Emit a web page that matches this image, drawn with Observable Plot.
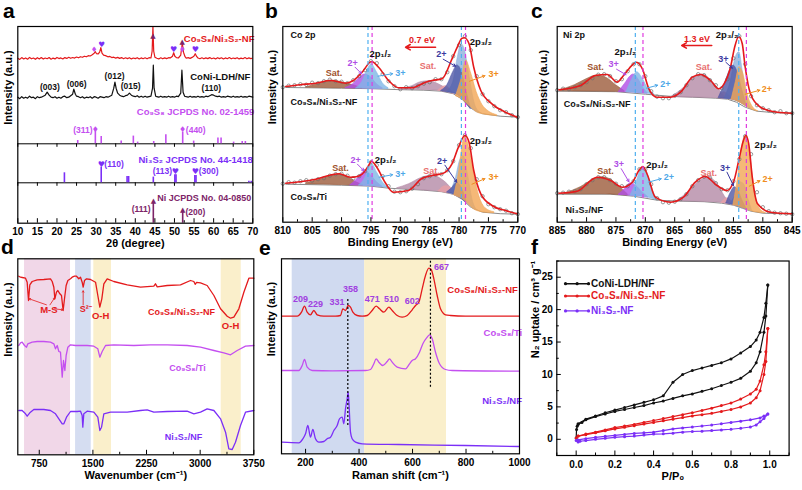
<!DOCTYPE html>
<html><head><meta charset="utf-8">
<script src="https://cdn.jsdelivr.net/npm/d3@7"></script>
<script src="https://cdn.jsdelivr.net/npm/@observablehq/plot@0.6"></script>
<style>
body{margin:0;background:#fff;}
#fig{position:relative;width:802px;height:490px;overflow:hidden;background:#fff;}
.panel{position:absolute;}
.letter{position:absolute;font-weight:bold;font-size:21px;line-height:1;font-family:"Liberation Sans",Arial,sans-serif;}
</style></head><body><div id="fig"></div>
<script>
// ---------------- DATA ----------------
// (a) XRD, 2theta vs intensity (a.u.)
const xrdHet = [[10,165],[10.5,163.8],[11,165.6],[11.5,164.2],[12,165.3],[12.5,164],[13,165.8],[13.5,164.4],[14,165.2],[14.5,163.9],[15,165.5],[15.5,164.3],[16,165.6],[16.5,164.1],[17,165.2],[17.5,164.5],[18,165.7],[18.5,164],[19,165.1],[19.5,164.3],[20,165.8],[20.5,164.6],[21,165.3],[21.5,164.2],[22,165.6],[22.5,164.8],[23,165.9],[23.5,164.9],[24,165.7],[24.5,165.1],[25,166.2],[25.5,165.4],[26,166.5],[26.5,165.9],[27,167],[27.5,166.4],[28,167.5],[28.5,167.2],[29,168.5],[29.5,170],[29.8,171.5],[30.1,169.5],[30.5,169.2],[30.9,171],[31.2,175.5],[31.5,170],[31.9,168],[32.4,167.6],[33,166.4],[33.5,166.8],[34,165.6],[34.5,166],[35,165.1],[35.5,165.8],[36,164.8],[36.5,165.6],[37,164.5],[37.5,165.4],[38,164.6],[38.5,165.5],[39,164.3],[39.5,165.2],[40,164.6],[40.5,165.5],[41,164.2],[41.5,165.3],[42,164.5],[42.5,165.4],[43,164.4],[43.5,165.5],[44,165.2],[44.3,172],[44.5,197],[44.7,172],[45,166],[45.5,165],[46,164.3],[46.5,165.4],[47,164.4],[47.5,165.3],[48,164.6],[48.5,165.5],[49,165.4],[49.5,167],[49.8,170.5],[50.1,167],[50.5,165.6],[51,165.2],[51.6,168],[52,180],[52.3,171],[52.7,166.5],[53,165],[53.5,165.6],[54,164.8],[54.5,165.8],[55,167.2],[55.3,169.5],[55.7,166.5],[56,165.2],[56.5,164.5],[57,165.4],[57.5,164.4],[58,165.3],[58.5,164.6],[59,165.6],[59.5,164.5],[60,165.2],[60.5,164.3],[61,165.5],[61.5,164.6],[62,165.4],[62.5,164.2],[63,165.3],[63.5,164.5],[64,165.6],[64.5,164.4],[65,165.2],[65.5,164.6],[66,165.5],[66.5,164.3],[67,165.1],[67.5,164.5],[68,165.6],[68.5,164.4],[69,165.3],[69.5,164.6],[70,165]];
const xrdLdh = [[10,126],[10.5,124.5],[11,126.5],[11.5,125],[12,126],[12.5,125],[13,127],[13.5,125.5],[14,126],[14.5,124.5],[15,126.5],[15.5,125.5],[16,126],[16.5,127],[17,128],[17.5,131],[18,128],[18.5,126],[19,125.5],[19.5,126.5],[20,125],[20.5,126],[21,125],[21.5,126.5],[22,127],[22.5,125.5],[23,126],[23.5,127.5],[24,129],[24.3,134],[24.7,129],[25,127],[25.5,126.5],[26,125.5],[26.5,126.5],[27,125],[27.5,126],[28,125.5],[28.5,126.5],[29,125],[29.5,126.5],[30,126],[30.5,125],[31,126.5],[31.5,126],[32,125.5],[32.5,126.5],[33,126],[33.5,127],[34,128],[34.5,135],[34.8,141],[35.1,135],[35.5,130],[36,128],[36.5,127],[37,126.5],[37.5,127.5],[38,128],[38.5,130],[39,128],[39.5,127],[40,126.5],[40.5,127.5],[41,126],[41.5,127],[42,126],[42.5,127],[43,126],[43.5,126.5],[44,127],[44.4,135],[44.6,158],[44.8,135],[45.2,127],[45.5,126.5],[46,126],[46.5,127],[47,126],[47.5,126.5],[48,126],[48.5,127],[49,126],[49.5,126.5],[50,126],[50.5,127],[51,126.5],[51.6,130],[51.9,153],[52.2,131],[52.6,127],[53,126.5],[53.5,126],[54,127],[54.5,126],[55,126.5],[55.5,126],[56,127],[56.5,126],[57,126.5],[57.5,126],[58,127],[58.5,126.5],[59,127.5],[59.5,128.5],[60,128],[60.5,127],[61,126.5],[61.5,127],[62,126],[62.5,126.5],[63,126],[63.5,127],[64,126.5],[64.5,126],[65,127],[65.5,126],[66,126.5],[66.5,126],[67,127],[67.5,126],[68,126.5],[68.5,126],[69,127],[69.5,126.5],[70,126]];
// reference patterns: [2theta, relative height]
const refCo9S8 = [[25.3,3.3],[29.8,13.3],[31.3,7.3],[36.4,2.7],[39.5,7.7],[40.6,1.7],[44.7,2.3],[47.8,9],[52.1,11.7],[54.9,2.7],[61.1,5.7],[61.9,5.7],[65.1,1.7],[67.3,2.3],[68.1,2.3]];
const refNi3S2 = [[21.9,10],[31.3,15.7],[37.9,6.3],[38.3,6.3],[44.6,5.7],[50.1,8],[50.4,8],[55.2,7.3],[55.5,7.3],[69.0,1.5],[69.6,1.5]];
const refNi = [[44.6,21],[52.1,12.7]];

// (b) Co 2p XPS
const coTopRaw = [[810,135],[809,136.5],[808,137],[807,138],[806,137.5],[805,139.5],[804,139],[803,141],[802,142.5],[801,141],[800,140.5],[799,139],[798,142],[797,146],[796,152],[795,161],[794,159],[793,148],[792,141],[791,136],[790,133],[789,135],[788,134],[787,136],[786,138.5],[785,140],[784,143],[783,143],[782,150],[781,166],[780,177],[779,186],[778,172],[777,146],[776,128],[775,121],[774,116],[773,112],[772,110],[771,107],[770,105]];
const coTopFit = [[809.5,135.7],[807,137.5],[804.4,139],[801.9,141.7],[799.3,139],[798,141.7],[796.5,150],[794.9,160.7],[793.7,155],[792,141.7],[790.3,134.4],[788,134.4],[785.7,140],[784.6,141.7],[782.9,143.4],[781.2,163.4],[780.3,175],[779.5,184],[779.1,184.4],[778.3,178.4],[777.5,155],[776.3,131.7],[774.4,118.4],[772.1,110],[770.1,105]];
const coTopBg = [[809.5,134.7],[800,134],[795,133.5],[790,132.5],[786,132],[783,131],[781,128.5],[779.5,123],[778,114],[776,108.5],[773,106],[770,105]];
const coTopSatA = [[806,134.5,135],[805,134.4,136.5],[803,134.2,140],[801.5,134,141.5],[800,134,140],[798,133.8,137],[796.5,133.7,134]];
const coTopCo2a = [[799.3,134,134.2],[798,133.8,138],[797,133.7,144],[796,133.6,147.7],[795,133.5,145],[794,133.4,138],[793,133.3,134]];
const coTopCo3a = [[797.5,133.6,134],[796.5,133.6,140],[795.5,133.5,153],[794.9,133.5,158],[794,133.4,150],[793,133.3,139],[792,133.2,134]];
const coTopSatB = [[790,132.5,133],[788,132.4,136],[786.5,132.2,140],[785,132,141],[783.5,131.5,138],[782,130,133],[781,128.5,129]];
const coTopPink = [[783.5,131.5,131.8],[782.3,130.5,136],[781,128.5,130],[780.2,127,127.3]];
const coTopCo2b = [[783,131,131.5],[782,130,137],[781,129,150],[780.3,127.5,156.7],[779.5,124,150],[778.7,118,130],[778,113,114]];
const coTopBlue = [[782,130,131],[781,129,140],[780.2,127,165],[779.6,124,178],[779,121,172],[778.2,116,145],[777.3,111,118],[776.5,109,110]];
const coTopCo3b = [[780.5,126,126.5],[779.5,123,145],[778.8,119.5,161.7],[778,115,150],[777,110,130],[776,108,117],[775,107,111],[773.5,106,107]];
const coBotRaw = [[810,38.5],[809,40],[808,39.5],[807,41],[806,42],[805,41.5],[804,43],[803,44],[802,46.5],[801,48],[800,48.5],[799,46.5],[798,44],[797,46],[796,51],[795,60],[794,57],[793,46],[792,36],[791,30.5],[790,30],[789,31],[788,33.5],[787,38],[786,44],[785,46],[784,47.5],[783,48],[782,52],[781,61],[780,77],[779,87],[778,74],[777,43],[776,26],[775,18],[774,15],[773,13],[772,11.5],[771,9],[770,8]];
const coBotFit = [[809.5,39],[807,40.5],[804.4,43],[802,47],[800.4,48.5],[798.5,45],[797.5,45.5],[796.5,48],[795.5,55.7],[794.9,61],[794,55],[792.6,40],[791.2,30],[788.6,31.7],[786.4,43.4],[784.6,46.7],[782.9,48.4],[781.2,58.4],[780.1,75],[779,86.7],[778.3,80],[777.5,51.7],[776.3,28.4],[774.4,16.7],[772.1,11.7],[770.1,8.4]];
const coBotBg = [[809.5,38],[800,37],[795,36],[792,34],[789,33],[786,32],[783,30.5],[781,28],[779.5,23],[778,15],[776,10],[773,8.5],[770,8]];
const coBotSatA = [[806,38,39],[804,37.7,42],[802,37.5,46],[800.5,37.2,47.7],[799,37,45.5],[797.5,36.7,40],[796.3,36.5,37]];
const coBotCo2a = [[798.5,36.8,37],[797.5,36.7,42],[796.5,36.5,49],[795.8,36.3,51],[795,36,47],[794,35.7,40],[793,35,35.5]];
const coBotCo3a = [[797,36.6,37],[796,36.3,44],[795.3,36.1,55],[794.8,36,58],[794,35.7,50],[793,35,40],[792.2,34.5,35]];
const coBotSatB = [[790.5,33.5,34],[788.5,33,38],[786.5,32,44],[784.5,31.2,46.7],[783,30.5,43],[781.5,29,35],[780.5,26,26.5]];
const coBotPink = [[783.5,30.8,31],[782.3,29.5,36],[781,27.5,33],[780,25,25.5]];
const coBotCo2b = [[782,29.5,30],[781.2,28.5,34],[780.4,26.5,39],[779.7,24,36],[778.8,20,22]];
const coBotBlue = [[781.5,28.5,29],[780.5,26.5,45],[779.8,24.5,62],[779.2,22,66],[778.5,18,48],[777.6,13.5,20],[777,12,12.5]];
const coBotCo3b = [[780.8,27,27.5],[780,25,50],[779.3,23,80],[778.9,21,85],[778.3,17.5,75],[777.5,13,50],[776.5,10.5,25],[775.5,9.5,14],[774,9,10]];

// (c) Ni 2p XPS
const niTopRaw = [[885,132],[884,133.5],[883,133],[882,135],[881,137],[880,140],[879,144],[878,147.5],[877,148],[876,146],[875,141],[874,143],[873,151],[872,158],[871,158],[870,146],[869,131],[868,125.5],[867,124],[866,124],[865,126.5],[864,130],[863,137],[862,144],[861,148],[860,147],[859,142],[858,137],[857,134],[856,143],[855,164],[854,186],[853,158],[852,126],[851,117],[850,114],[849,112],[848,110],[847,111],[846,109],[845,109]];
const niTopFit = [[884.7,132.4],[881,136.7],[878.5,146.7],[876.5,147.7],[874.8,140],[873.7,146.7],[872.2,157.4],[871.5,160],[870.5,153.4],[869.4,133.4],[868,125],[865.7,125],[864,130],[862,145],[860.6,147.7],[858.9,141.7],[857.5,133.4],[856.6,138.4],[855.5,155],[854.8,175],[854.1,185.7],[853.5,178.4],[853,155],[852.1,128.4],[850.4,115],[847.5,110],[845,109]];
const niTopBg = [[884.7,131],[875,130.5],[870,128],[866,126],[862,125],[858,124],[856,123],[854.5,120],[853,115],[851,111],[848,109.5],[845,109]];
const niTopSatA = [[884.5,131,132],[882,130.8,137],[880,130.7,143],[878.2,130.6,146.7],[876.5,130.5,144],[875,130.4,137],[873.5,130.2,131]];
const niTopNi3a = [[874.5,130.2,130.5],[873.5,130,138],[872.5,129.8,146],[872,129.7,147.7],[871.2,129.3,143],[870.3,128.8,134],[869.6,128.5,129]];
const niTopNi2a = [[873.2,130,130.5],[872.3,129.7,142],[871.4,129.4,150],[870.5,129,144],[869.5,128.5,133],[868.5,128,128.5]];
const niTopSatB = [[865.5,125,125.5],[863.5,124.8,134],[862,124.6,143],[860.3,124.5,147.7],[858.8,124.2,142],[857.5,124,133],[856.3,123.5,124]];
const niTopPink = [[857.5,124,124.3],[856.6,123.6,130],[855.6,122.8,126],[855,122.2,122.5]];
const niTopNi3b = [[857.5,124,124.5],[856.5,123.5,138],[855.5,123,153],[855,122.5,156.7],[854.3,121,150],[853.5,118.5,132],[852.8,116,117]];
const niTopBlue = [[856.5,123.5,124],[855.5,123,140],[854.6,121.5,165],[854,120,170],[853.4,118,150],[852.7,115.5,125],[852,113,113.5]];
const niTopNi2b = [[855.3,122.8,123],[854.6,121.5,140],[854,120,155],[853.3,117.5,148],[852.6,115,128],[851.8,112.5,116],[850.8,110.8,111]];
const niBotRaw = [[885,29],[884,29.5],[883,30.5],[882,31],[881,33],[880,38],[879,42],[878,45],[877,45],[876,42],[875,38.5],[874,36],[873,36],[872,41],[871,53],[870,53],[869,38],[868,24],[867,20],[866,19.5],[865,20.5],[864,23],[863,28],[862,36],[861,42],[860,45.5],[859,44.5],[858,39],[857,33],[856,32],[855,41],[854,63],[853,86],[852,68],[851,30],[850,15],[849,11],[848,9.5],[847,9],[846,8.5],[845,8]];
const niBotFit = [[884.7,29],[881.6,31],[878.2,45],[875.9,41.7],[873.9,35],[872.2,40],[871.1,51.7],[870.4,55.7],[869.6,46.7],[868.3,25],[865.7,20],[863.5,25],[861.5,40],[859.8,45.7],[857.8,36.7],[856.1,31.7],[854.9,41.7],[854.1,61.7],[853.3,81.7],[852.9,86.7],[852.4,78.4],[851.8,45],[850.9,18.4],[848.7,10],[845,8.4]];
const niBotBg = [[884.7,28],[876,28],[872,26],[868,22],[864,21],[860,20.5],[857,19],[855,17],[853.5,14],[852,11],[850,9],[847,8.5],[845,8.3]];
const niBotSatA = [[883.5,28,29],[881,28,35],[879,28,42],[877.5,28,45],[876,27.8,43],[874.5,27.3,36],[873,26.6,28]];
const niBotNi3a = [[874.5,27.3,27.6],[873.5,27,33],[872.5,26.5,39],[871.5,26.2,36],[870.5,25.5,30],[869.5,24.5,25]];
const niBotNi2a = [[872.5,26.5,27],[871.5,26.2,40],[870.8,25.8,52],[870.3,25.5,55],[869.6,24.8,48],[868.8,23.5,33],[868,22,22.5]];
const niBotSatB = [[864.5,21,21.5],[862.5,20.7,31],[861,20.5,40],[859.3,20.3,45],[857.7,19.8,38],[856.5,19,26],[855.5,17.8,18]];
const niBotPink = [[857,19.2,19.5],[856,18.5,24],[855,17,19],[854.5,16,16.3]];
const niBotNi3b = [[856.2,18.8,19],[855.4,17.8,30],[854.8,17,35],[854.2,16,32],[853.5,14.5,22],[852.8,13,13.5]];
const niBotBlue = [[855.5,18,18.5],[854.6,16.5,28],[853.9,15,40],[853.2,13.5,38],[852.5,12,24],[851.8,10.8,11]];
const niBotNi2b = [[855,17,17.5],[854.2,16,45],[853.5,14.5,76],[853,13.5,85.7],[852.4,12,76],[851.8,10.8,50],[851.2,10,25],[850.3,9.2,12],[849.5,9,9.3]];

// (d) FTIR: wavenumber vs transmittance (a.u.)
const ftirHet = [[464,178.6],[488,177.6],[511,177.3],[558,176.6],[581,172.6],[600,154.3],[618,170],[651,173.3],[721,175],[814,175.3],[907,176],[931,173.3],[954,167.6],[968,156],[991,162.6],[1010,164.3],[1038,161],[1061,159.3],[1084,144.3],[1103,156],[1126,169.3],[1150,174.3],[1187,176],[1210,177.6],[1243,178.6],[1271,178.6],[1303,176],[1327,177.6],[1350,172.6],[1364,167.6],[1383,174.3],[1411,176],[1467,175.3],[1537,172.6],[1569,159.3],[1597,147.6],[1625,156],[1653,171],[1700,176],[1793,173.3],[1980,170],[2166,167.6],[2352,168.6],[2375,171],[2400,168],[2539,169.3],[2725,170],[2865,174.3],[2912,173.3],[2930,170.5],[2950,172.5],[3005,172],[3098,169.3],[3192,159.3],[3285,146],[3378,138.6],[3425,136.6],[3471,137.6],[3541,146],[3611,162.6],[3681,176.6],[3751,176.6]];
const ftirTi = [[464,109.3],[488,112],[511,112.6],[544,109.3],[572,107.6],[590,111],[651,112.6],[721,113.3],[814,113.3],[907,112.6],[954,111],[977,106],[1001,109.3],[1024,103.3],[1047,102.6],[1071,77.6],[1089,94.3],[1108,84.3],[1126,99.3],[1150,107.6],[1187,110],[1257,109.3],[1420,109.3],[1513,108.6],[1569,106],[1597,97.6],[1630,103.3],[1677,109.3],[1793,110],[2073,109.3],[2306,110],[2539,110],[2818,109.3],[3005,107.6],[3192,104.3],[3331,102],[3425,100],[3518,104.3],[3634,108.6],[3751,109.3]];
const ftirNi = [[464,44.3],[511,44.3],[558,41],[581,38.6],[618,42],[674,45.3],[814,45.3],[907,44.3],[977,41],[1024,36],[1071,31],[1094,31],[1131,37.6],[1187,43.3],[1280,43.3],[1327,43.6],[1350,39.3],[1359,27.6],[1373,41],[1420,43.6],[1513,42.6],[1569,37.6],[1597,24.3],[1621,27.6],[1653,41],[1747,42.6],[1980,42.6],[2166,44.3],[2259,45],[2352,42.6],[2539,43.3],[2818,43.6],[2912,41],[3005,42.6],[3098,46],[3192,44.3],[3285,36],[3355,22.6],[3401,6],[3448,5.3],[3494,12.6],[3564,29.3],[3634,42.6],[3751,44.3]];

// (e) Raman
const ramHet = [[112.5,137.6],[168.6,137.6],[184.8,141.6],[196,147.6],[206,141.6],[218.4,139],[230.9,143.3],[243.4,139],[268.3,137.6],[311.9,137.6],[330.6,138.3],[339.4,145],[349.3,143.3],[359.3,148.3],[368,146.6],[376.8,141.6],[393,138.3],[411.7,137.6],[430.4,138.3],[449,143.3],[464,147.6],[476.5,145],[492.7,141.6],[511.4,146.6],[523.9,143.3],[542.6,138.3],[561.3,136.6],[580,138.3],[598.7,144],[611.2,148.3],[623.6,151.6],[636.1,165],[648.5,178.3],[661,185.6],[669.7,184.3],[679.7,175],[692.2,158.3],[704.6,145],[723.3,139],[742,138.3],[798.1,137.6],[922.8,137.6],[997.6,137.6]];
const ramTi = [[112.5,83.3],[174.8,83.3],[187.3,88.3],[196,94.3],[206,86.6],[224.7,83.3],[299.5,83],[424.1,83.3],[442.8,84.3],[455.3,90],[464,95],[474,91.6],[488.9,88.3],[505.2,92.3],[513.9,95],[523.9,91.6],[542.6,86.6],[573.7,85],[588.8,90],[598.7,93.3],[611.2,95],[626.1,101.6],[638.6,110],[654.8,116.6],[663.5,119],[673.5,115],[685.9,101.6],[700.9,90],[723.3,84.3],[748.3,83.3],[997.6,82.6]];
const ramNi = [[112.5,11.6],[174.8,11],[189.8,15],[199.8,20],[208.5,28.3],[218.4,16.6],[227.2,24.3],[237.1,15],[249.6,11.6],[268.3,12.3],[280.8,15],[293.3,16.6],[305.7,23.3],[318.2,28.3],[326.9,35],[336.9,36.6],[343.1,30],[349.3,45],[355.6,55],[359.3,61.6],[362,52],[368,21.6],[374.3,15],[386.7,11.6],[411.7,10],[548.8,9.3],[798.1,8.3],[997.6,7.3]];

// (f) N2 isotherms: P/P0 vs uptake
const ldhAds = [[0,0.2],[0.002,1.5],[0.005,2.0],[0.01,2.3],[0.03,2.6],[0.05,3.0],[0.1,3.5],[0.15,3.9],[0.2,4.3],[0.25,4.6],[0.3,4.9],[0.35,5.2],[0.4,5.6],[0.45,5.9],[0.5,6.3],[0.55,6.7],[0.6,7.0],[0.65,7.4],[0.7,7.8],[0.75,8.3],[0.8,8.8],[0.85,9.4],[0.9,10.5],[0.93,11.8],[0.95,13.5],[0.97,16.5],[0.98,19],[0.99,23.8]];
const ldhDes = [[0.99,23.8],[0.98,21.0],[0.97,18.8],[0.95,16.5],[0.93,15.3],[0.9,14.3],[0.85,13.3],[0.8,12.4],[0.75,11.8],[0.7,11.4],[0.65,11.0],[0.6,10.6],[0.55,10.0],[0.5,8.8],[0.45,6.7],[0.4,6.1],[0.35,5.7],[0.3,5.3],[0.25,4.9],[0.2,4.5],[0.15,4.1],[0.1,3.6],[0.05,3.1],[0.01,2.4]];
const hetAds = [[0,0.2],[0.01,0.5],[0.05,0.7],[0.1,1.0],[0.15,1.3],[0.2,1.6],[0.25,1.85],[0.3,2.1],[0.35,2.35],[0.4,2.6],[0.45,2.85],[0.5,3.1],[0.55,3.35],[0.6,3.6],[0.65,3.8],[0.7,4.0],[0.75,4.3],[0.8,4.6],[0.85,5.0],[0.9,5.6],[0.93,6.4],[0.95,7.5],[0.97,10.0],[0.98,12],[0.99,17.1]];
const hetDes = [[0.99,17.1],[0.98,13.5],[0.97,11.5],[0.95,9.0],[0.93,7.7],[0.9,7.0],[0.85,6.2],[0.8,5.6],[0.75,5.2],[0.7,4.8],[0.65,4.45],[0.6,4.1],[0.55,3.8],[0.5,3.5],[0.45,3.2],[0.4,2.9],[0.35,2.6],[0.3,2.3],[0.25,2.05],[0.2,1.8],[0.15,1.45],[0.1,1.1],[0.05,0.8],[0.01,0.5]];
const ni3Ads = [[0,-0.2],[0.01,-0.4],[0.02,-0.3],[0.05,-0.2],[0.1,0.0],[0.15,0.15],[0.2,0.3],[0.25,0.4],[0.3,0.5],[0.35,0.65],[0.4,0.8],[0.45,0.85],[0.5,0.95],[0.55,1.1],[0.6,1.2],[0.65,1.25],[0.7,1.35],[0.75,1.45],[0.8,1.55],[0.85,1.7],[0.9,1.9],[0.93,2.2],[0.95,2.7],[0.97,3.2],[0.99,3.9]];
const ni3Des = [[0.99,3.9],[0.97,3.6],[0.95,3.3],[0.9,3.0],[0.85,2.8],[0.8,2.6],[0.75,2.4],[0.7,2.2],[0.65,2.05],[0.6,1.9],[0.55,1.75],[0.5,1.6],[0.45,1.35],[0.4,1.1],[0.35,1.0],[0.3,0.9],[0.25,0.75],[0.2,0.6],[0.15,0.45],[0.1,0.3],[0.05,0.1],[0.01,-0.1]];
const isoNames = ["CoNi-LDH/NF", "Co₉S₈/Ni₃S₂-NF", "Ni₃S₂-NF"];

// tick values
const aTicks = [10,15,20,25,30,35,40,45,50,55,60,65,70];
const aMinor = [12.5,17.5,22.5,27.5,32.5,37.5,42.5,47.5,52.5,57.5,62.5,67.5];
const bTicks = [810,805,800,795,790,785,780,775,770];
const bMinor = [807.5,802.5,797.5,792.5,787.5,782.5,777.5,772.5];
const cTicks = [885,880,875,870,865,860,855,850,845];
const cMinor = [882.5,877.5,872.5,867.5,862.5,857.5,852.5,847.5];
const dTicks = [750,1500,2250,3000,3750];
const dMinor = [1125,1875,2625,3375];
const eTicks = [200,400,600,800,1000];
const eMinor = [300,500,700,900];
const fxTicks = [0,0.2,0.4,0.6,0.8,1.0];
const fxMinor = [-0.1,0.1,0.3,0.5,0.7,0.9,1.1];
const fyTicks = [0,5,10,15,20,25];
const fyMinor = [-2.5,2.5,7.5,12.5,17.5,22.5,27.5];

// ---------------- DRAWING ----------------
const FONT = '"Liberation Sans", Arial, sans-serif';
const SYM = '"DejaVu Sans", sans-serif';
const RED = "#e41a1c", MAG = "#c44ff0", VIO = "#7b2ff7", NIC = "#7d2468";
const C = {brown:"#9c5b3b", purple:"#b04ee6", lblue:"#7fb6e6", mauve:"#b48aa6", pink:"#eaa0a6", dblue:"#4f58a6", blue2:"#8fb0dc", orange:"#f2a655"};
const fig = document.getElementById("fig");
const TP = 5, TITLE = 11;

const X = d => d[0], Y = d => d[1];
const T = (x, y, t, fill, o = {}) => Plot.text([{x, y, t}], {x: "x", y: "y", text: "t", fill, fontSize: 9, fontWeight: "bold", fontFamily: FONT, ...o});
const AR = (x1, y1, x2, y2, stroke, o = {}) => Plot.arrow([{x1, y1, x2, y2}], {x1: "x1", y1: "y1", x2: "x2", y2: "y2", stroke, strokeWidth: 1, headLength: 4, ...o});
const comp = (arr, fill) => Plot.areaY(arr, {x: X, y1: d => d[1], y2: d => d[2], fill, fillOpacity: 0.8, stroke: fill, strokeWidth: 0.6, curve: "monotone-x"});
const xTickMarks = (major, minor, H) => [
  Plot.ruleX(major, {x: d => d, insetTop: H - 4.5, stroke: "black"}),
  Plot.ruleX(minor, {x: d => d, insetTop: H - 2.5, stroke: "black"})
];
const yTitle = (t, dx) => Plot.text([t], {text: d => d, frameAnchor: "left", rotate: -90, dx, fontSize: TITLE, fontWeight: "bold", fontFamily: FONT, fill: "black"});
const xTitle = (t, dy) => Plot.text([t], {text: d => d, frameAnchor: "bottom", dy, fontSize: TITLE, fontWeight: "bold", fontFamily: FONT, fill: "black"});

function panel({sx, sy, sw, sh, fl, ft, fr, fb, x, y, marks}) {
  const svg = Plot.plot({
    width: sw, height: sh,
    marginLeft: fl - sx, marginTop: ft - sy, marginRight: sx + sw - fr, marginBottom: sy + sh - fb,
    x, y,
    style: `background:transparent;overflow:visible;font-family:${FONT};font-size:10px;font-weight:bold;color:black;`,
    marks
  });
  const div = document.createElement("div");
  div.className = "panel";
  div.style.left = sx + "px"; div.style.top = sy + "px"; div.style.width = sw + "px"; div.style.height = sh + "px";
  div.appendChild(svg);
  fig.appendChild(div);
}

// ---- panel a ----
{
  const H = 222.7 - 26;
  const D1 = 79.4, D2 = 40.4;
  const sticks = (arr, base, color) => Plot.ruleX(arr, {x: X, y1: () => base, y2: d => base + d[1], stroke: color, strokeWidth: 1.6});
  panel({sx: 0, sy: 0, sw: 267, sh: 256, fl: 17.3, ft: 26, fr: 252.3, fb: 222.7,
    x: {domain: [10, 70], ticks: aTicks, tickSize: 0, tickPadding: TP, label: null, tickFormat: d3.format("d")},
    y: {domain: [0, H], axis: null},
    marks: [
      Plot.ruleY([D1, D2], {stroke: "black", strokeWidth: 1}),
      Plot.ruleX(aTicks, {x: d => d, y1: D1, y2: D1 - 3.5, stroke: "black"}),
      Plot.ruleX(aTicks, {x: d => d, y1: D2, y2: D2 - 3.5, stroke: "black"}),
      sticks(refCo9S8, D1, MAG),
      sticks(refNi3S2, D2, VIO),
      sticks(refNi, 0, NIC),
      Plot.line(xrdLdh, {x: X, y: Y, stroke: "#111", strokeWidth: 1.2}),
      Plot.line(xrdHet, {x: X, y: Y, stroke: RED, strokeWidth: 1.2, clip: true}),
      T(61.4, 184.4, "Co₉S₈/Ni₃S₂-NF", RED, {fontSize: 9.5}),
      T(61.7, 146.7, "CoNi-LDH/NF", "#111", {fontSize: 9.5}),
      T(18.2, 136, "(003)", "#111", {fontSize: 8.5}),
      T(25, 139.4, "(006)", "#111", {fontSize: 8.5}),
      T(34.7, 146.5, "(012)", "#111", {fontSize: 8.5}),
      T(38.8, 137, "(015)", "#111", {fontSize: 8.5}),
      T(59.4, 135.4, "(110)", "#111", {fontSize: 8.5}),
      T(29.5, 173.6, "♦", MAG, {fontFamily: SYM, fontSize: 7.5}),
      T(31.4, 178.8, "♥", VIO, {fontFamily: SYM, fontSize: 7.5}),
      T(44.5, 187.7, "▲", NIC, {fontFamily: SYM, fontSize: 7}),
      T(49.8, 173.4, "♥", VIO, {fontFamily: SYM, fontSize: 8}),
      T(52, 181, "▲", NIC, {fontFamily: SYM, fontSize: 7}),
      T(52, 174, "♦", MAG, {fontFamily: SYM, fontSize: 8}),
      T(55.3, 173.4, "♥", VIO, {fontFamily: SYM, fontSize: 8}),
      T(55.4, 111, "Co₉S₈ JCPDS No. 02-1459", MAG, {fontSize: 9.5}),
      T(29.1, 93.4, "(311)", MAG, {textAnchor: "end", fontSize: 8.5}),
      T(29.8, 94, "♦", MAG, {fontFamily: SYM, fontSize: 8}),
      T(52.1, 94, "♦", MAG, {fontFamily: SYM, fontSize: 8}),
      T(52.9, 93.4, "(440)", MAG, {textAnchor: "start", fontSize: 8.5}),
      T(55.4, 63.7, "Ni₃S₂ JCPDS No. 44-1418", VIO, {fontSize: 9.5}),
      T(31.3, 58.7, "♥", VIO, {fontFamily: SYM, fontSize: 8}),
      T(32.1, 58.7, "(110)", VIO, {textAnchor: "start", fontSize: 8.5}),
      T(49.4, 51.7, "(113)", VIO, {textAnchor: "end", fontSize: 8.5}),
      T(50.2, 51.7, "♥", VIO, {fontFamily: SYM, fontSize: 8}),
      T(55.3, 51.7, "♥", VIO, {fontFamily: SYM, fontSize: 8}),
      T(56.2, 51.7, "(300)", VIO, {textAnchor: "start", fontSize: 8.5}),
      T(45.6, 25.5, "Ni JCPDS No. 04-0850", NIC, {fontSize: 9, textAnchor: "start"}),
      T(43.9, 14.4, "(111)", NIC, {textAnchor: "end", fontSize: 8.5}),
      T(44.6, 22, "▲", NIC, {fontFamily: SYM, fontSize: 7}),
      T(52.1, 13.5, "▲", NIC, {fontFamily: SYM, fontSize: 7}),
      T(52.8, 11, "(200)", NIC, {textAnchor: "start", fontSize: 8.5}),
      ...xTickMarks(aTicks, aMinor, H),
      yTitle("Intensity (a.u.)", -9.3),
      xTitle("2θ (degree)", 24),
      Plot.frame({stroke: "black", strokeWidth: 1.2})
    ]});
}

// ---- XPS helper ----
function xpsMarks(top, bot) {
  const m = [];
  for (const s of [top, bot]) {
    m.push(Plot.line(s.bg, {x: X, y: Y, stroke: "#8a8a8a", strokeWidth: 1}));
    for (const [arr, col] of s.comps) m.push(comp(arr, col));
    m.push(Plot.dot(s.raw, {x: X, y: Y, r: 1.7, stroke: "#6e6e6e", strokeWidth: 0.7, fill: "none"}));
    m.push(Plot.line(s.fit, {x: X, y: Y, stroke: RED, strokeWidth: 1.6, curve: "monotone-x"}));
  }
  return m;
}

// ---- panel b ----
{
  const H = 221.7 - 26;
  panel({sx: 265, sy: 0, sw: 267, sh: 256, fl: 282.3, ft: 26, fr: 517.3, fb: 221.7,
    x: {domain: [810, 770], ticks: bTicks, tickSize: 0, tickPadding: TP, label: null, tickFormat: d3.format("d")},
    y: {domain: [0, H], axis: null},
    marks: [
      ...xpsMarks(
        {bg: coTopBg, raw: coTopRaw, fit: coTopFit, comps: [[coTopSatA, C.brown], [coTopCo2a, C.purple], [coTopCo3a, C.lblue], [coTopSatB, C.mauve], [coTopPink, C.pink], [coTopBlue, C.blue2], [coTopCo2b, C.dblue], [coTopCo3b, C.orange]]},
        {bg: coBotBg, raw: coBotRaw, fit: coBotFit, comps: [[coBotSatA, C.brown], [coBotCo2a, C.purple], [coBotCo3a, C.lblue], [coBotSatB, C.mauve], [coBotPink, C.pink], [coBotBlue, C.blue2], [coBotCo2b, C.dblue], [coBotCo3b, C.orange]]}
      ),
      Plot.ruleX([795.5, 779.6], {stroke: "#4fb0f0", strokeDasharray: "4,3", strokeWidth: 1.2}),
      Plot.ruleX([794.8, 778.9], {stroke: "#e03ce0", strokeDasharray: "4,3", strokeWidth: 1.2}),
      T(808.7, 187.4, "Co 2p", "#111", {textAnchor: "start"}),
      T(786.3, 182, "0.7 eV", RED),
      AR(784, 175, 789.1, 175, RED, {strokeWidth: 1.6, headLength: 5}),
      T(793.4, 168.4, "2p₁/₂", "#111", {fontSize: 9.5}),
      T(778.2, 180, "2p₃/₂", "#111", {textAnchor: "start", fontSize: 9.5}),
      T(801.3, 149, "Sat.", "#a0522d"),
      T(798.1, 159, "2+", C.purple),
      AR(797.7, 155, 796.6, 148.5, C.purple),
      T(790, 149, "3+", "#4ea8e8"),
      AR(793.8, 146, 791.3, 148.5, "#4ea8e8"),
      T(785.3, 156.4, "Sat.", "#e87070"),
      T(783, 167.7, "2+", "#3a3aa0"),
      AR(782.7, 163, 780.6, 156, "#3a3aa0"),
      T(774.1, 147.7, "3+", "#f08c20"),
      AR(778.2, 141, 775.6, 146.5, "#f08c20"),
      T(808.7, 120, "Co₉S₈/Ni₃S₂-NF", "#111", {textAnchor: "start"}),
      T(800.2, 54, "Sat.", "#a0522d"),
      T(797.6, 62, "2+", C.purple),
      AR(797.3, 58, 796.2, 51.5, C.purple),
      T(792.5, 62.4, "2p₁/₂", "#111", {fontSize: 9.5}),
      T(790, 48.4, "3+", "#4ea8e8"),
      AR(793.6, 45, 791.3, 47.5, "#4ea8e8"),
      T(784.7, 51, "Sat.", "#e87070"),
      T(782.9, 61, "2+", "#3a3aa0"),
      AR(782.4, 57, 780.4, 40, "#3a3aa0"),
      T(778.2, 81.7, "2p₃/₂", "#111", {textAnchor: "start", fontSize: 9.5}),
      T(774.1, 45, "3+", "#f08c20"),
      AR(777.8, 38, 775.6, 43.5, "#f08c20"),
      T(808.7, 25, "Co₉S₈/Ti", "#111", {textAnchor: "start"}),
      ...xTickMarks(bTicks, bMinor, H),
      yTitle("Intensity (a.u.)", -10.3),
      xTitle("Binding Energy (eV)", 24),
      Plot.frame({stroke: "black", strokeWidth: 1.2})
    ]});
}

// ---- panel c ----
{
  const H = 221.7 - 26;
  panel({sx: 530, sy: 0, sw: 272, sh: 256, fl: 556.7, ft: 26, fr: 791.7, fb: 221.7,
    x: {domain: [885, 845], ticks: cTicks, tickSize: 0, tickPadding: TP, label: null, tickFormat: d3.format("d")},
    y: {domain: [0, H], axis: null},
    marks: [
      ...xpsMarks(
        {bg: niTopBg, raw: niTopRaw, fit: niTopFit, comps: [[niTopSatA, C.brown], [niTopNi3a, C.purple], [niTopNi2a, C.lblue], [niTopSatB, C.mauve], [niTopPink, C.pink], [niTopBlue, C.blue2], [niTopNi3b, C.dblue], [niTopNi2b, C.orange]]},
        {bg: niBotBg, raw: niBotRaw, fit: niBotFit, comps: [[niBotSatA, C.brown], [niBotNi3a, C.purple], [niBotNi2a, C.lblue], [niBotSatB, C.mauve], [niBotPink, C.pink], [niBotBlue, C.blue2], [niBotNi3b, C.dblue], [niBotNi2b, C.orange]]}
      ),
      Plot.ruleX([871.7, 854.1], {stroke: "#4fb0f0", strokeDasharray: "4,3", strokeWidth: 1.2}),
      Plot.ruleX([870.4, 852.8], {stroke: "#e03ce0", strokeDasharray: "4,3", strokeWidth: 1.2}),
      T(884, 187.4, "Ni 2p", "#111", {textAnchor: "start"}),
      T(861.2, 183.4, "1.3 eV", RED),
      AR(858.7, 176.7, 863.8, 176.7, RED, {strokeWidth: 1.6, headLength: 5}),
      T(856.1, 187.4, "2p₃/₂", "#111", {fontSize: 9.5}),
      T(873.4, 170, "2p₁/₂", "#111", {fontSize: 9.5}),
      T(878.5, 155, "Sat.", "#a0522d"),
      T(875.4, 157.7, "3+", C.purple),
      AR(874.9, 153, 873.3, 147.5, C.purple),
      T(866.6, 138.4, "2+", "#4ea8e8"),
      AR(869.8, 134, 867.9, 137, "#4ea8e8"),
      T(860, 155, "Sat.", "#e87070"),
      T(856.7, 163.4, "3+", "#3a3aa0"),
      AR(856.3, 160, 855.2, 154, "#3a3aa0"),
      T(849.3, 133.4, "2+", "#f08c20"),
      AR(853, 128, 850.5, 132, "#f08c20"),
      T(883.9, 118.4, "Co₉S₈/Ni₃S₂-NF", "#111", {textAnchor: "start"}),
      T(876.8, 51, "Sat.", "#a0522d"),
      T(874.5, 57.7, "3+", C.purple),
      AR(874.1, 53.5, 872.8, 40.5, C.purple),
      T(868, 57.7, "2p₁/₂", "#111", {fontSize: 9.5}),
      T(866, 45, "2+", "#4ea8e8"),
      AR(869.5, 40, 867.3, 43.5, "#4ea8e8"),
      T(859.2, 49.4, "Sat.", "#e87070"),
      T(856.4, 54, "3+", "#3a3aa0"),
      AR(856.1, 50, 855, 36.5, "#3a3aa0"),
      T(851.4, 77.7, "2p₃/₂", "#111", {textAnchor: "start", fontSize: 9.5}),
      T(849.2, 43.4, "2+", "#f08c20"),
      AR(852.3, 36, 850.5, 41.5, "#f08c20"),
      T(883.6, 11.7, "Ni₃S₂/NF", "#111", {textAnchor: "start"}),
      ...xTickMarks(cTicks, cMinor, H),
      yTitle("Intensity (a.u.)", -13.7),
      xTitle("Binding Energy (eV)", 24),
      Plot.frame({stroke: "black", strokeWidth: 1.2})
    ]});
}

// ---- panel d ----
{
  const H = 454.3 - 258.3;
  const band = (x1, x2, fill) => Plot.rect([{x1, x2}], {x1: "x1", x2: "x2", y1: () => 0, y2: () => H, fill, fillOpacity: 0.9});
  panel({sx: 0, sy: 245, sw: 267, sh: 245, fl: 17.3, ft: 258.3, fr: 253.3, fb: 454.3,
    x: {domain: [450, 3750], ticks: dTicks, tickSize: 0, tickPadding: TP, label: null, tickFormat: d3.format("d")},
    y: {domain: [0, H], axis: null},
    marks: [
      band(544, 1187, "#efd3e6"),
      band(1258, 1477, "#d0d9ef"),
      band(1513, 1760, "#faedc5"),
      band(3294, 3574, "#faedc5"),
      Plot.line(ftirHet, {x: X, y: Y, stroke: RED, strokeWidth: 1.3}),
      Plot.line(ftirTi, {x: X, y: Y, stroke: MAG, strokeWidth: 1.3}),
      Plot.line(ftirNi, {x: X, y: Y, stroke: VIO, strokeWidth: 1.3}),
      T(884, 145, "M-S", RED, {fontSize: 9.5}),
      AR(850, 150, 608, 156, RED, {strokeWidth: 0.8, headLength: 3}),
      AR(900, 150, 965, 157, RED, {strokeWidth: 0.8, headLength: 3}),
      AR(960, 146, 1078, 145, RED, {strokeWidth: 0.8, headLength: 3}),
      T(1400, 146, "S²⁻", RED, {fontSize: 9}),
      AR(1364, 150, 1364, 164, RED, {strokeWidth: 0.8, headLength: 3}),
      T(1608, 138.6, "O-H", RED, {fontSize: 9.5}),
      T(3425, 128.6, "O-H", RED, {fontSize: 9.5}),
      T(2739, 142.6, "Co₉S₈/Ni₃S₂-NF", RED),
      T(2823, 86.6, "Co₉S₈/Ti", MAG),
      T(2767, 17.6, "Ni₃S₂/NF", VIO),
      ...xTickMarks(dTicks, dMinor, H),
      yTitle("Intensity (a.u.)", -9.3),
      xTitle("Wavenumber (cm⁻¹)", 24.5),
      Plot.frame({stroke: "black", strokeWidth: 1.2})
    ]});
}

// ---- panel e ----
{
  const H = 453.3 - 258.3;
  const band = (x1, x2, fill) => Plot.rect([{x1, x2}], {x1: "x1", x2: "x2", y1: () => 0, y2: () => H, fill, fillOpacity: 0.9});
  panel({sx: 265, sy: 245, sw: 267, sh: 245, fl: 281, ft: 258.3, fr: 519, fb: 453.3,
    x: {domain: [110, 1000], ticks: eTicks, tickSize: 0, tickPadding: TP, label: null, tickFormat: d3.format("d")},
    y: {domain: [0, H], axis: null},
    marks: [
      band(150, 421, "#cbd6ee"),
      band(421, 727, "#faedc5"),
      Plot.line(ramHet, {x: X, y: Y, stroke: RED, strokeWidth: 1.3, curve: "monotone-x"}),
      Plot.line(ramTi, {x: X, y: Y, stroke: MAG, strokeWidth: 1.3, curve: "monotone-x"}),
      Plot.line(ramNi, {x: X, y: Y, stroke: VIO, strokeWidth: 1.3, curve: "monotone-x"}),
      Plot.ruleX([358], {y1: () => 28.3, y2: () => 155, stroke: "black", strokeDasharray: "2,2", strokeWidth: 1.2}),
      Plot.ruleX([667], {y1: () => 66.6, y2: () => 193.3, stroke: "black", strokeDasharray: "2,2", strokeWidth: 1.2}),
      T(181, 155, "209", "#a040e0"),
      T(237, 150, "229", "#a040e0"),
      T(318, 151.6, "331", "#a040e0"),
      T(368, 164.3, "358", "#a040e0"),
      T(449, 155, "471", "#a040e0"),
      T(521, 155, "510", "#a040e0"),
      T(599, 152.3, "602", "#a040e0"),
      T(708, 186.6, "667", "#a040e0"),
      T(862, 164.3, "Co₉S₈/Ni₃S₂-NF", RED, {fontSize: 9.5}),
      T(938, 121, "Co₉S₈/Ti", MAG, {fontSize: 9.5}),
      T(935, 53.3, "Ni₃S₂/NF", VIO, {fontSize: 9.5}),
      ...xTickMarks(eTicks, eMinor, H),
      yTitle("Intensity (a.u.)", -10),
      xTitle("Raman shift (cm⁻¹)", 25.5),
      Plot.frame({stroke: "black", strokeWidth: 1.2})
    ]});
}

// ---- panel f ----
{
  const H = 455 - 260.5, W = 788.6 - 556.3;
  const series = [[ldhAds, ldhDes, "#111"], [hetAds, hetDes, RED], [ni3Ads, ni3Des, VIO]];
  const m = [];
  for (const [ads, des, col] of series) {
    m.push(Plot.line(ads, {x: X, y: Y, stroke: col, strokeWidth: 1.2}));
    m.push(Plot.line(des, {x: X, y: Y, stroke: col, strokeWidth: 1.2}));
    m.push(Plot.dot(ads, {x: X, y: Y, r: 1.5, fill: col}));
    m.push(Plot.dot(des, {x: X, y: Y, r: 1.5, fill: col}));
  }
  const legY = [24, 22.1, 19.8];
  const legCol = ["#111", RED, VIO];
  isoNames.forEach((name, i) => {
    m.push(Plot.line([[-0.055, legY[i]], [0.064, legY[i]]], {x: X, y: Y, stroke: legCol[i], strokeWidth: 1.4}));
    m.push(Plot.dot([[-0.055, legY[i]], [0.005, legY[i]], [0.064, legY[i]]], {x: X, y: Y, r: 1.6, fill: legCol[i]}));
    m.push(T(0.077, legY[i], name, legCol[i], {textAnchor: "start", fontSize: 10}));
  });
  panel({sx: 530, sy: 245, sw: 272, sh: 245, fl: 556.3, ft: 260.5, fr: 788.6, fb: 455,
    x: {domain: [-0.1, 1.1], ticks: fxTicks, tickSize: 0, tickPadding: TP, label: null, tickFormat: d3.format(".1f")},
    y: {domain: [-2.5, 27.5], ticks: fyTicks, tickSize: 0, tickPadding: 4, label: null, tickFormat: d3.format("d")},
    marks: [
      ...m,
      ...xTickMarks(fxTicks, fxMinor, H),
      Plot.ruleY(fyTicks, {y: d => d, insetRight: W - 4.5, stroke: "black"}),
      Plot.ruleY(fyMinor, {y: d => d, insetRight: W - 2.5, stroke: "black"}),
      yTitle("N₂ uptake / cm³ g⁻¹", -21),
      xTitle("P/P₀", 24.5),
      Plot.frame({stroke: "black", strokeWidth: 1.2})
    ]});
}

// panel letters
for (const [t, l, tp] of [["a", 3, 0], ["b", 265, 0], ["c", 531, 0], ["d", 1, 236], ["e", 259, 237], ["f", 531, 236]]) {
  const d = document.createElement("div");
  d.className = "letter"; d.textContent = t; d.style.left = l + "px"; d.style.top = tp + "px";
  fig.appendChild(d);
}
</script></body></html>
